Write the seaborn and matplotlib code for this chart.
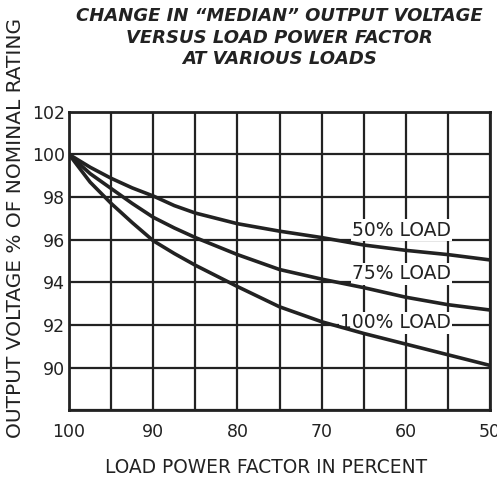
import matplotlib
matplotlib.use("Agg")
import matplotlib.pyplot as plt
import seaborn as sns
import pandas as pd

# load power factor (percent) and median output voltage (% of nominal)
power_factor = [100, 97.5, 95, 92.5, 90, 87.5, 85, 82.5, 80, 75, 70, 65, 60, 55, 50]
load_50 = [100, 99.4, 98.88, 98.43, 98.05, 97.6, 97.25, 97.0, 96.75, 96.4, 96.1, 95.75, 95.5, 95.3, 95.05]
load_75 = [100, 99.1, 98.4, 97.7, 97.05, 96.55, 96.1, 95.7, 95.3, 94.6, 94.15, 93.75, 93.3, 92.95, 92.7]
load_100 = [100, 98.7, 97.7, 96.8, 95.95, 95.35, 94.8, 94.3, 93.8, 92.85, 92.15, 91.6, 91.1, 90.6, 90.1]

series_names = ["50% LOAD", "75% LOAD", "100% LOAD"]
label_x = [60.5, 60.5, 61.2]
label_y = [96.45, 94.4, 92.1]

x_ticks = [100, 90, 80, 70, 60, 50]
y_ticks = [90, 92, 94, 96, 98, 100, 102]

n = len(power_factor)
df = pd.DataFrame({
    "pf": power_factor * 3,
    "voltage": load_50 + load_75 + load_100,
    "load": [series_names[0]] * n + [series_names[1]] * n + [series_names[2]] * n,
})

sns.set_style("white")
plt.rcParams["font.family"] = ["DejaVu Sans"]

fig = plt.figure(figsize=(4.97, 4.82), dpi=100)
ax = fig.add_axes([0.139, 0.149, 0.847, 0.619])

sns.lineplot(data=df, x="pf", y="voltage", hue="load",
             palette=["#222222"] * 3, linewidth=2.6, legend=False, ax=ax, zorder=3)

ax.set_xlim(100, 50)
ax.set_ylim(88, 102)
ax.set_xticks(range(100, 49, -5))
ax.set_yticks(range(88, 103, 2))
ax.grid(True, color="#222222", linewidth=1.6)
ax.set_axisbelow(True)
ax.set_xticklabels([str(t) if t in x_ticks else "" for t in range(100, 49, -5)])
ax.set_yticklabels([str(t) if t in y_ticks else "" for t in range(88, 103, 2)])
ax.tick_params(length=0, labelsize=12.5, colors="#222222")
ax.tick_params(axis="x", pad=9)
ax.tick_params(axis="y", pad=3)
for s in ax.spines.values():
    s.set_color("#222222")
    s.set_linewidth(2)

# labels sit above the grid but below the curves
for name, lx, ly in zip(series_names, label_x, label_y):
    ax.text(lx, ly, name, ha="center", va="center", fontsize=13.5, color="#222222",
            zorder=2, bbox=dict(facecolor="white", edgecolor="none", pad=1))

ax.set_xlabel("LOAD POWER FACTOR IN PERCENT", fontsize=13.4, color="#222222", va="center")
ax.xaxis.set_label_coords(0.468, -0.191)
ax.set_ylabel("OUTPUT VOLTAGE % OF NOMINAL RATING", fontsize=14.5, color="#222222", va="center")
ax.yaxis.set_label_coords(-0.128, 0.611)

fig.text(0.563, 0.985,
         "CHANGE IN \u201cMEDIAN\u201d OUTPUT VOLTAGE\nVERSUS LOAD POWER FACTOR\nAT VARIOUS LOADS",
         ha="center", va="top", fontsize=13, fontweight="bold", fontstyle="italic",
         color="#222222", linespacing=1.25)

fig.savefig("out.png", dpi=100, facecolor="white")
